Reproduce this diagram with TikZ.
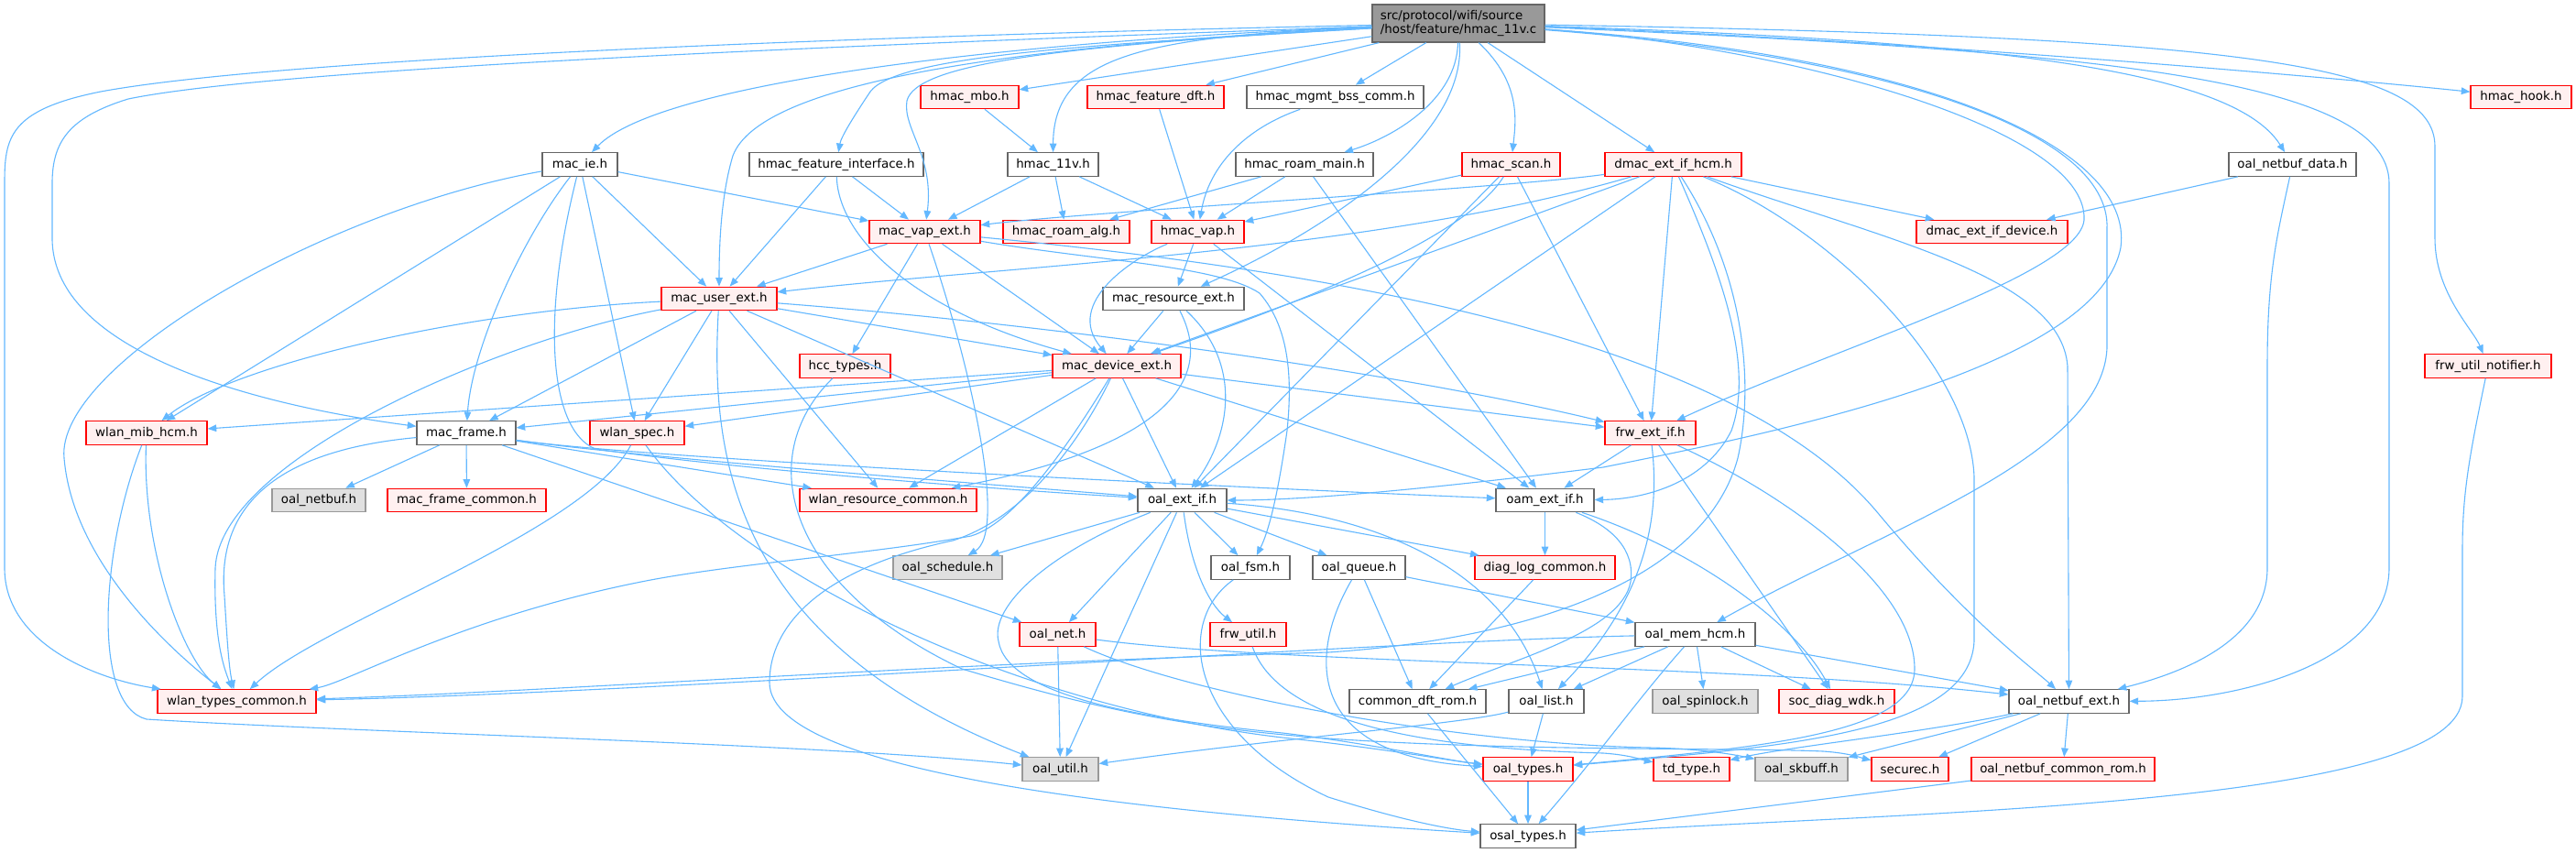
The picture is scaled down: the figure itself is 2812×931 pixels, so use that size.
\documentclass[tikz,border=0pt]{standalone}
\usepackage{fontspec}
\usetikzlibrary{arrows.meta}
\newfontfamily\dvs{DejaVu Sans}
\definecolor{eblue}{HTML}{63B8FF}
\definecolor{rborder}{HTML}{FF0000}
\definecolor{rfill}{HTML}{FFF0F0}
\definecolor{gborder}{HTML}{666666}
\definecolor{xborder}{HTML}{999999}
\definecolor{xfill}{HTML}{E0E0E0}
\definecolor{rootfill}{HTML}{999999}
\tikzset{
  nb/.style={draw, line width=0.6pt, minimum height=12.75pt, inner sep=0pt, anchor=center, font=\dvs\fontsize{6.7pt}{7.6pt}\selectfont},
  rn/.style={nb, draw=rborder, fill=rfill},
  gn/.style={nb, draw=gborder, fill=white},
  xn/.style={nb, draw=xborder, fill=xfill},
  rootn/.style={nb, draw=gborder, fill=rootfill},
  e/.style={draw=eblue, line width=0.55pt, -{Triangle[length=4.8pt,width=3.8pt]}},
}
\begin{document}
\begin{tikzpicture}[x=0.5pt,y=-0.5pt]
\useasboundingbox (0,0) rectangle (2812,931);
\fill[white] (0,0) rectangle (2812,931);
% nodes
\node[rootn, minimum width=94pt, minimum height=20.5pt, align=left] (root) at (1592,25.5) {src/protocol/wifi/source\\/host/feature/hmac\_11v.c};
\node[rn, minimum width=53.5pt] (mbo) at (1058.5,106) {hmac\_mbo.h};
\node[rn, minimum width=74.5pt] (dft) at (1261.5,106) {hmac\_feature\_dft.h};
\node[gn, minimum width=96.5pt] (bss) at (1457.5,106) {hmac\_mgmt\_bss\_comm.h};
\node[rn, minimum width=55pt] (hook) at (2752,106) {hmac\_hook.h};
\node[gn, minimum width=41pt] (ie) at (633,179.5) {mac\_ie.h};
\node[gn, minimum width=95pt] (hfi) at (913,179.5) {hmac\_feature\_interface.h};
\node[gn, minimum width=49.5pt] (h11v) at (1149.5,179.5) {hmac\_11v.h};
\node[gn, minimum width=75pt] (rmain) at (1424,179.5) {hmac\_roam\_main.h};
\node[rn, minimum width=53.5pt] (scan) at (1649.5,179.5) {hmac\_scan.h};
\node[rn, minimum width=74.5pt] (dhcm) at (1826.5,179.5) {dmac\_ext\_if\_hcm.h};
\node[gn, minimum width=69.5pt] (nbdata) at (2502.5,179.5) {oal\_netbuf\_data.h};
\node[rn, minimum width=60.5pt] (vap) at (1009.5,253) {mac\_vap\_ext.h};
\node[rn, minimum width=69pt] (ralg) at (1164,253) {hmac\_roam\_alg.h};
\node[rn, minimum width=50.5pt] (hvap) at (1307.5,253) {hmac\_vap.h};
\node[rn, minimum width=82.5pt] (ddev) at (2174.5,253) {dmac\_ext\_if\_device.h};
\node[rn, minimum width=63pt] (user) at (785,326) {mac\_user\_ext.h};
\node[gn, minimum width=77pt] (res) at (1281,326) {mac\_resource\_ext.h};
\node[rn, minimum width=49.5pt] (hcc) at (922.5,399.5) {hcc\_types.h};
\node[rn, minimum width=70pt] (dev) at (1219,399.5) {mac\_device\_ext.h};
\node[rn, minimum width=69pt] (notif) at (2716,399.5) {frw\_util\_notifier.h};
\node[rn, minimum width=66pt] (mib) at (160,472.5) {wlan\_mib\_hcm.h};
\node[gn, minimum width=54pt] (frame) at (509,472.5) {mac\_frame.h};
\node[rn, minimum width=51.5pt] (spec) at (695.5,472.5) {wlan\_spec.h};
\node[rn, minimum width=49.5pt] (frw) at (1801.5,472.5) {frw\_ext\_if.h};
\node[xn, minimum width=51pt] (netbuf) at (348,546) {oal\_netbuf.h};
\node[rn, minimum width=86.5pt] (fcommon) at (509.5,546) {mac\_frame\_common.h};
\node[rn, minimum width=96.5pt] (wres) at (969.5,546) {wlan\_resource\_common.h};
\node[gn, minimum width=48.5pt] (oal) at (1290.5,546) {oal\_ext\_if.h};
\node[gn, minimum width=53.5pt] (oam) at (1686.5,546) {oam\_ext\_if.h};
\node[xn, minimum width=59.5pt] (sched) at (1034.5,619.5) {oal\_schedule.h};
\node[gn, minimum width=43pt] (fsm) at (1365,619.5) {oal\_fsm.h};
\node[gn, minimum width=50.5pt] (queue) at (1483.5,619.5) {oal\_queue.h};
\node[rn, minimum width=76.5pt] (diag) at (1686.5,619.5) {diag\_log\_common.h};
\node[rn, minimum width=41.5pt] (net) at (1154.5,692.5) {oal\_net.h};
\node[rn, minimum width=41.5pt] (futil) at (1362.5,692.5) {frw\_util.h};
\node[gn, minimum width=65.5pt] (mem) at (1850.5,692.5) {oal\_mem\_hcm.h};
\node[rn, minimum width=86.5pt] (wtc) at (258.5,765.5) {wlan\_types\_common.h};
\node[gn, minimum width=74.5pt] (dft2) at (1547.5,765.5) {common\_dft\_rom.h};
\node[gn, minimum width=41pt] (list) at (1688,765.5) {oal\_list.h};
\node[xn, minimum width=57.5pt] (spin) at (1861.5,765.5) {oal\_spinlock.h};
\node[rn, minimum width=63pt] (wdk) at (2005,765.5) {soc\_diag\_wdk.h};
\node[gn, minimum width=65.5pt] (nbext) at (2258.5,765.5) {oal\_netbuf\_ext.h};
\node[xn, minimum width=41.5pt] (util) at (1157.5,839.5) {oal\_util.h};
\node[rn, minimum width=49pt] (types) at (1668,839.5) {oal\_types.h};
\node[rn, minimum width=41.5pt] (td) at (1846.5,839.5) {td\_type.h};
\node[xn, minimum width=50.5pt] (skb) at (1966.5,839.5) {oal\_skbuff.h};
\node[rn, minimum width=42pt] (sec) at (2085,839.5) {securec.h};
\node[rn, minimum width=100pt] (nbrom) at (2252,839.5) {oal\_netbuf\_common\_rom.h};
\node[gn, minimum width=52pt] (osal) at (1668,912.5) {osal\_types.h};
% root edges
\draw[e] (root) .. controls (900,40) and (300,65) .. (110,100) .. controls (10,120) and (5,150) .. (5,200) -- (5,620) .. controls (5,700) and (100,740) .. (wtc);
\draw[e] (root) .. controls (900,50) and (300,75) .. (140,108) .. controls (75,128) and (57,155) .. (57,200) -- (57,260) .. controls (57,390) and (300,445) .. (frame);
\draw[e] (root) .. controls (1100,45) and (720,90) .. (ie);
\draw[e] (root) .. controls (1200,48) and (980,60) .. (950,100) .. controls (930,130) and (918,150) .. (hfi);
\draw[e] (root) .. controls (1150,50) and (1000,70) .. (990,110) .. controls (985,140) and (1020,170) .. (vap);
\draw[e] (root) .. controls (1100,50) and (830,90) .. (800,170) .. controls (788,210) and (785,260) .. (user);
\draw[e] (root) -- (mbo);
\draw[e] (root) .. controls (1250,40) and (1150,60) .. (h11v);
\draw[e] (root) -- (dft);
\draw[e] (root) -- (bss);
\draw[e] (root) .. controls (1590,110) and (1520,150) .. (rmain);
\draw[e] (root) .. controls (1600,150) and (1450,250) .. (res);
\draw[e] (root) .. controls (1660,90) and (1655,130) .. (scan);
\draw[e] (root) -- (dhcm);
\draw[e] (root) .. controls (2200,45) and (2440,80) .. (nbdata);
\draw[e] (root) .. controls (2100,45) and (2550,85) .. (hook);
\draw[e] (root) .. controls (2450,40) and (2658,70) .. (2658,160) -- (2658,260) .. controls (2658,320) and (2700,360) .. (notif);
\draw[e] (root) .. controls (2250,55) and (2608,80) .. (2608,200) -- (2608,620) .. controls (2608,720) and (2450,765) .. (nbext);
\draw[e] (root) .. controls (1950,50) and (2280,140) .. (2275,240) .. controls (2270,300) and (2000,380) .. (frw);
\draw[e] (root) .. controls (2050,60) and (2305,140) .. (2300,250) -- (2300,380) .. controls (2295,500) and (2050,580) .. (mem);
\draw[e] (root) .. controls (2100,60) and (2330,160) .. (2315,270) .. controls (2290,400) and (1950,470) .. (1750,510) .. controls (1550,535) and (1420,546) .. (oal);
% mac_ie
\draw[e] (ie) .. controls (350,230) and (60,400) .. (70,500) .. controls (80,620) and (200,720) .. (wtc);
\draw[e] (ie) -- (mib);
\draw[e] (ie) .. controls (570,260) and (515,380) .. (frame);
\draw[e] (ie) .. controls (590,350) and (600,470) .. (650,490) .. controls (800,512) and (1100,535) .. (oal);
\draw[e] (ie) -- (spec);
\draw[e] (ie) -- (user);
\draw[e] (ie) -- (vap);
% hmac_feature_interface
\draw[e] (hfi) -- (vap);
\draw[e] (hfi) -- (user);
\draw[e] (hfi) .. controls (915,260) and (1000,340) .. (dev);
% upper hmac nodes
\draw[e] (mbo) -- (h11v);
\draw[e] (h11v) -- (vap);
\draw[e] (h11v) -- (ralg);
\draw[e] (h11v) -- (hvap);
\draw[e] (dft) -- (hvap);
\draw[e] (bss) .. controls (1360,140) and (1320,180) .. (hvap);
\draw[e] (rmain) -- (ralg);
\draw[e] (rmain) -- (hvap);
\draw[e] (rmain) -- (oam);
\draw[e] (scan) -- (hvap);
\draw[e] (scan) .. controls (1600,260) and (1420,330) .. (dev);
\draw[e] (scan) -- (oal);
\draw[e] (scan) -- (frw);
% dmac_ext_if_hcm
\draw[e] (dhcm) .. controls (1650,205) and (1200,230) .. (vap);
\draw[e] (dhcm) .. controls (1500,275) and (1100,290) .. (user);
\draw[e] (dhcm) -- (dev);
\draw[e] (dhcm) -- (oal);
\draw[e] (dhcm) -- (frw);
\draw[e] (dhcm) .. controls (1880,300) and (1915,400) .. (1890,470) .. controls (1860,530) and (1790,545) .. (oam);
\draw[e] (dhcm) -- (ddev);
\draw[e] (dhcm) .. controls (2050,260) and (2250,300) .. (2257,400) -- (nbext);
\draw[e] (dhcm) .. controls (1905,300) and (1915,420) .. (1897,500) .. controls (1865,620) and (1700,695) .. (1450,712) .. controls (1000,725) and (600,755) .. (wtc);
\draw[e] (dhcm) .. controls (2000,250) and (2150,400) .. (2155,520) -- (2155,700) .. controls (2150,800) and (1950,815) .. (types);
% mac_vap_ext
\draw[e] (vap) -- (user);
\draw[e] (vap) -- (hcc);
\draw[e] (vap) -- (dev);
\draw[e] (vap) .. controls (1060,400) and (1100,580) .. (sched);
\draw[e] (vap) .. controls (1200,285) and (1330,290) .. (1375,320) .. controls (1410,360) and (1410,420) .. (1405,470) .. controls (1395,540) and (1385,580) .. (fsm);
\draw[e] (vap) .. controls (1500,300) and (1900,380) .. (2050,560) .. controls (2150,680) and (2220,730) .. (nbext);
% mac_user_ext
\draw[e] (user) .. controls (500,340) and (250,400) .. (mib);
\draw[e] (user) -- (frame);
\draw[e] (user) .. controls (550,370) and (240,500) .. (235,620) .. controls (233,700) and (245,730) .. (wtc);
\draw[e] (user) -- (spec);
\draw[e] (user) .. controls (775,500) and (800,700) .. (util);
\draw[e] (user) -- (wres);
\draw[e] (user) -- (oal);
\draw[e] (user) -- (dev);
\draw[e] (user) .. controls (1100,350) and (1500,400) .. (frw);
% hcc_types, wlan_spec
\draw[e] (hcc) .. controls (820,500) and (860,640) .. (1050,730) .. controls (1200,775) and (1300,795) .. (1450,806) .. controls (1650,820) and (1900,816) .. (1990,820) .. controls (2020,822) and (2035,828) .. (sec);
\draw[e] (spec) .. controls (640,580) and (350,680) .. (wtc);
\draw[e] (spec) .. controls (800,620) and (1100,770) .. (1400,805) .. controls (1520,818) and (1580,830) .. (types);
% mac_frame
\draw[e] (frame) .. controls (320,490) and (235,540) .. (245,650) .. controls (248,700) and (250,730) .. (wtc);
\draw[e] (frame) -- (netbuf);
\draw[e] (frame) -- (fcommon);
\draw[e] (frame) -- (net);
\draw[e] (frame) .. controls (700,500) and (1100,530) .. (oal);
\draw[e] (frame) -- (wres);
\draw[e] (frame) .. controls (700,500) and (1300,530) .. (oam);
% wlan_mib_hcm
\draw[e] (mib) .. controls (155,600) and (200,720) .. (wtc);
\draw[e] (mib) .. controls (110,600) and (100,770) .. (160,785) .. controls (400,800) and (900,812) .. (util);
% mac_device_ext
\draw[e] (dev) -- (spec);
\draw[e] (dev) -- (frame);
\draw[e] (dev) -- (mib);
\draw[e] (dev) -- (wres);
\draw[e] (dev) .. controls (1170,480) and (1110,570) .. (1060,585) .. controls (950,605) and (800,615) .. (700,635) .. controls (500,675) and (380,745) .. (wtc);
\draw[e] (dev) .. controls (1180,480) and (1120,565) .. (1040,590) .. controls (900,620) and (840,680) .. (840,745) .. controls (840,850) and (1300,890) .. (osal);
\draw[e] (dev) -- (oal);
\draw[e] (dev) -- (oam);
\draw[e] (dev) -- (frw);
% mac_resource_ext, hmac_vap
\draw[e] (res) -- (dev);
\draw[e] (res) .. controls (1360,400) and (1340,480) .. (oal);
\draw[e] (res) .. controls (1330,420) and (1260,490) .. (wres);
\draw[e] (hvap) -- (res);
\draw[e] (hvap) .. controls (1240,280) and (1160,330) .. (dev);
\draw[e] (hvap) -- (oam);
% oal_ext_if
\draw[e] (oal) -- (sched);
\draw[e] (oal) -- (net);
\draw[e] (oal) -- (util);
\draw[e] (oal) .. controls (1150,600) and (1080,660) .. (1090,700) .. controls (1100,760) and (1250,785) .. (1400,800) .. controls (1500,812) and (1580,830) .. (types);
\draw[e] (oal) -- (fsm);
\draw[e] (oal) .. controls (1300,620) and (1320,660) .. (futil);
\draw[e] (oal) -- (queue);
\draw[e] (oal) -- (diag);
\draw[e] (oal) .. controls (1500,560) and (1640,620) .. (list);
% oam_ext_if, frw_ext_if
\draw[e] (oam) -- (diag);
\draw[e] (oam) .. controls (1850,600) and (1960,680) .. (wdk);
\draw[e] (oam) .. controls (1760,575) and (1785,600) .. (1780,635) .. controls (1770,690) and (1650,720) .. (dft2);
\draw[e] (frw) -- (oam);
\draw[e] (frw) .. controls (1812,560) and (1800,650) .. (list);
\draw[e] (frw) -- (wdk);
\draw[e] (frw) .. controls (1950,540) and (2090,640) .. (2090,730) .. controls (2090,800) and (1930,815) .. (types);
% lower rows
\draw[e] (queue) -- (dft2);
\draw[e] (queue) .. controls (1430,710) and (1420,825) .. (types);
\draw[e] (queue) -- (mem);
\draw[e] (diag) -- (dft2);
\draw[e] (fsm) .. controls (1280,680) and (1300,800) .. (1450,870) .. controls (1530,895) and (1580,905) .. (osal);
\draw[e] (futil) .. controls (1400,800) and (1600,818) .. (1750,822) .. controls (1780,824) and (1795,830) .. (td);
\draw[e] (net) -- (util);
\draw[e] (net) .. controls (1400,725) and (1900,725) .. (nbext);
\draw[e] (net) .. controls (1300,760) and (1600,812) .. (1800,816) .. controls (1860,817) and (1900,825) .. (skb);
\draw[e] (mem) .. controls (1500,700) and (700,757) .. (wtc);
\draw[e] (mem) -- (dft2);
\draw[e] (mem) -- (list);
\draw[e] (mem) -- (spin);
\draw[e] (mem) -- (wdk);
\draw[e] (mem) -- (nbext);
\draw[e] (mem) .. controls (1790,760) and (1740,830) .. (osal);
\draw[e] (list) -- (types);
\draw[e] (list) .. controls (1600,790) and (1400,805) .. (util);
\draw[e] (dft2) -- (osal);
\draw[e] (types) -- (osal);
\draw[e] (nbrom) -- (osal);
\draw[e] (notif) .. controls (2695,500) and (2688,540) .. (2688,600) -- (2688,760) .. controls (2688,880) and (2100,885) .. (osal);
\draw[e] (nbext) .. controls (2100,800) and (1950,815) .. (td);
\draw[e] (nbext) -- (skb);
\draw[e] (nbext) -- (sec);
\draw[e] (nbext) -- (nbrom);
\draw[e] (nbdata) -- (ddev);
\draw[e] (nbdata) .. controls (2485,260) and (2475,300) .. (2475,400) -- (2475,620) .. controls (2475,700) and (2380,735) .. (nbext);
\end{tikzpicture}
\end{document}
